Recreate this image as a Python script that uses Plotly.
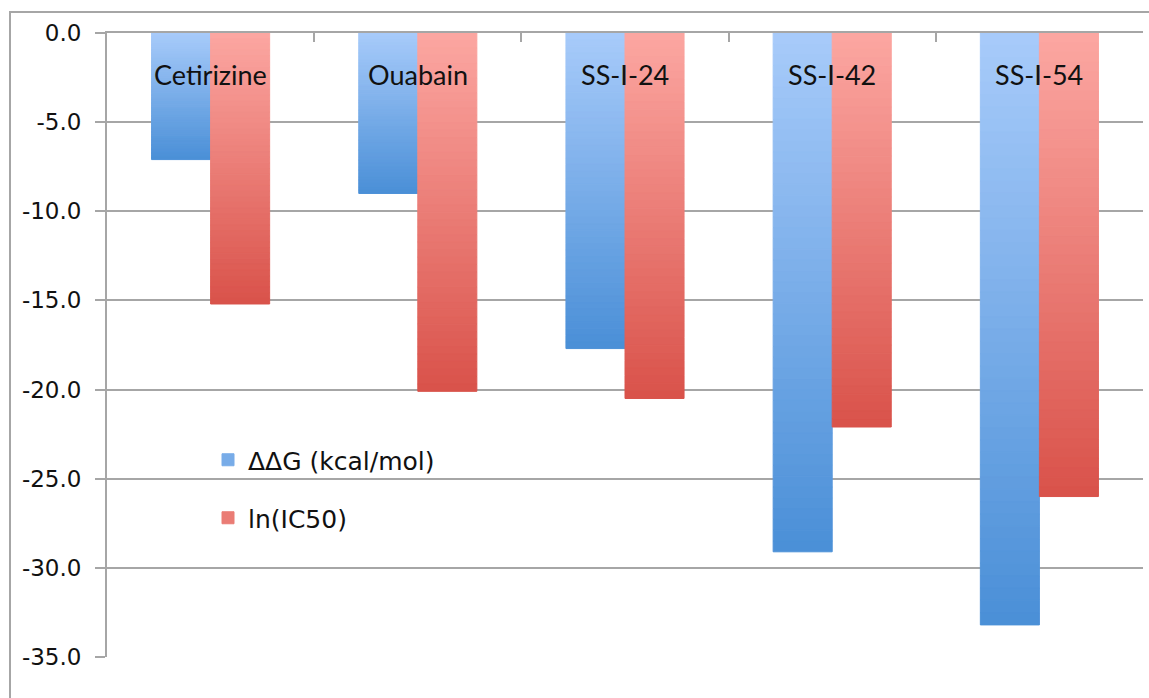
import numpy as np
import plotly.graph_objects as go

# Compounds and their two measurements
categories = ["Cetirizine", "Ouabain", "SS-I-24", "SS-I-42", "SS-I-54"]
ddg_kcal = [-7.1, -9.0, -17.7, -29.1, -33.2]
ln_ic50 = [-15.2, -20.1, -20.5, -22.1, -26.0]

y_tick_vals = [0, -5, -10, -15, -20, -25, -30, -35]
y_tick_text = ["0.0", "-5.0", "-10.0", "-15.0", "-20.0", "-25.0", "-30.0", "-35.0"]

W, H = 1149, 698
ML, MR, MT, MB = 107, 6, 33, 41
PW, PH = W - ML - MR, H - MT - MB

N_SLICES = 48  # bars are built from thin stacked slices to give a vertical gradient


def lerp_color(c0, c1, t):
    a = np.array(c0, float)
    b = np.array(c1, float)
    r, g, bl = (a + (b - a) * t).round().astype(int)
    return f"rgb({r},{g},{bl})"


series = [
    ("ΔΔG (kcal/mol)", ddg_kcal, (168, 203, 250), (74, 143, 215), "g1", "legend"),
    ("ln(IC50)", ln_ic50, (252, 167, 162), (217, 82, 74), "g2", "legend2"),
]

fig = go.Figure()
for name, vals, c_top, c_bot, grp, leg in series:
    vals = np.array(vals, float)
    for i in range(N_SLICES):
        t = (i + 0.5) / N_SLICES
        col = lerp_color(c_top, c_bot, t)
        fig.add_trace(go.Bar(
            x=categories,
            y=vals / N_SLICES,
            base=vals * i / N_SLICES,
            offsetgroup=grp,
            name=name,
            legend=leg,
            showlegend=(i == N_SLICES // 2),
            marker=dict(color=col, line=dict(width=1, color=col)),
            hoverinfo="skip",
        ))

# Category names written just under the zero line
for cat in categories:
    fig.add_annotation(
        x=cat, y=0, xref="x", yref="y", text=cat, showarrow=False,
        yanchor="middle", yshift=-41,
        font=dict(family="Lato, sans-serif", size=27, color="#111111"),
    )

grey = "#a6a6a6"

# Outer chart frame (its top and left edges show inside the canvas)
fx = (10 - ML) / PW
fy = 1 + (MT - 12) / PH
fig.add_shape(type="rect", xref="paper", yref="paper",
              x0=fx, x1=1 + (MR + 20) / PW, y0=-(MB + 20) / PH, y1=fy,
              line=dict(color=grey, width=2), fillcolor="rgba(0,0,0,0)",
              layer="above")

legend_font = dict(family="DejaVu Sans, sans-serif", size=25, color="#111111")

fig.update_layout(
    width=W, height=H,
    margin=dict(l=ML, r=MR, t=MT, b=MB),
    paper_bgcolor="white", plot_bgcolor="white",
    barmode="group", bargap=0.43, bargroupgap=0,
    font=dict(family="DejaVu Sans, sans-serif", size=22, color="#111111"),
    xaxis=dict(
        type="category", side="top", showticklabels=False,
        showline=True, linecolor=grey, linewidth=2,
        ticks="inside", tickson="boundaries", ticklen=9, tickcolor=grey, tickwidth=2,
        showgrid=False, zeroline=False, fixedrange=True,
    ),
    yaxis=dict(
        range=[-35, 0], tickmode="array", tickvals=y_tick_vals, ticktext=y_tick_text,
        showline=True, linecolor=grey, linewidth=2,
        ticks="outside", ticklen=10, tickcolor=grey, tickwidth=2,
        showgrid=True, gridcolor=grey, gridwidth=2, zeroline=False,
        tickfont=dict(family="DejaVu Sans, sans-serif", size=23, color="#111111"),
        ticklabelstandoff=9,
    ),
    legend=dict(x=(208 - ML) / PW, y=(657 - 437) / PH, xanchor="left", yanchor="top",
                bgcolor="rgba(0,0,0,0)", font=legend_font),
    legend2=dict(x=(208 - ML) / PW, y=(657 - 495) / PH, xanchor="left", yanchor="top",
                 bgcolor="rgba(0,0,0,0)", font=legend_font),
    showlegend=True,
)

fig.write_html("out.html")
